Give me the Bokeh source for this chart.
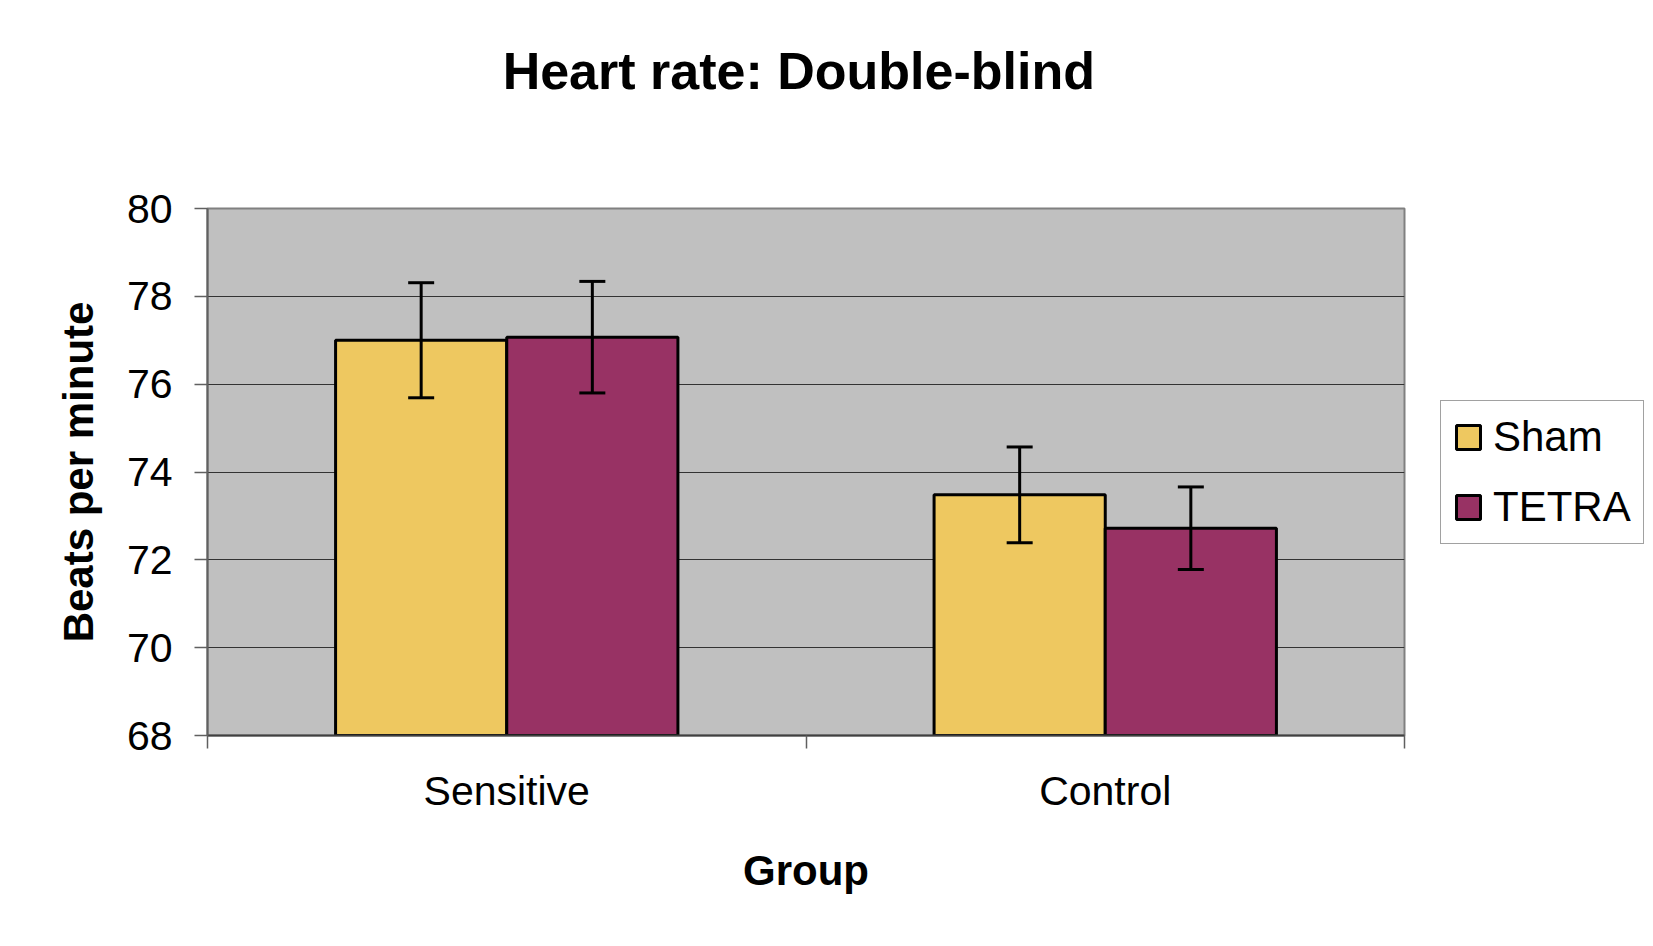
from bokeh.plotting import figure
from bokeh.models import (Range1d, FixedTicker, Whisker, ColumnDataSource, Legend,
                          LegendItem, TeeHead, LinearAxis)
from bokeh.embed import file_html
from bokeh.resources import INLINE

# ---- data ----
title_text = "Heart rate:  Double-blind"
groups = ["Sensitive", "Control"]
series = ["Sham", "TETRA"]
sham_mean = [77.0, 73.48]
sham_err = [1.31, 1.09]
tetra_mean = [77.07, 72.72]
tetra_err = [1.27, 0.94]
y_ticks = [68, 70, 72, 74, 76, 78, 80]
x_label = "Group"
y_label = "Beats per minute"

# ---- styles ----
colors = ["#EEC860", "#983264"]
FONT = "Liberation Sans"
bar_w = 0.286
y_min, y_max = y_ticks[0], y_ticks[-1]
FW, FH = 1197, 527

centers = [i + 0.5 for i in range(len(groups))]
all_means = [sham_mean, tetra_mean]
all_errs = [sham_err, tetra_err]

p = figure(width=1650, height=944, frame_width=FW, frame_height=FH,
           output_backend="svg", toolbar_location=None,
           x_range=Range1d(0, len(groups)), y_range=Range1d(y_min, y_max),
           min_border_left=207, min_border_right=246, min_border_top=208,
           min_border_bottom=209)

p.background_fill_color = "#C0C0C0"
p.border_fill_color = "white"
p.outline_line_color = "#808080"
p.outline_line_width = 2

renderers = []
for k, (means, errs) in enumerate(zip(all_means, all_errs)):
    offset = (k - 0.5) * bar_w
    xs = [c + offset for c in centers]
    src = ColumnDataSource(dict(x=xs, top=means,
                                upper=[m + e for m, e in zip(means, errs)],
                                lower=[m - e for m, e in zip(means, errs)]))
    r = p.vbar(x="x", top="top", bottom=y_min, width=bar_w, source=src,
               fill_color=colors[k], line_color="black", line_width=3)
    renderers.append(r)
    w = Whisker(base="x", upper="upper", lower="lower", source=src,
                line_color="black", line_width=3, level="overlay",
                upper_head=TeeHead(size=26, line_width=3, line_color="black"),
                lower_head=TeeHead(size=26, line_width=3, line_color="black"))
    p.add_layout(w)

# grid
p.xgrid.visible = False
p.ygrid.ticker = FixedTicker(ticks=y_ticks)
p.ygrid.grid_line_color = "#333333"
p.ygrid.grid_line_width = 1

# y axis
p.yaxis.ticker = FixedTicker(ticks=y_ticks)
p.yaxis.major_label_text_font = FONT
p.yaxis.major_label_text_font_size = "41px"
p.yaxis.major_label_text_color = "black"
p.yaxis.major_tick_out = 13
p.yaxis.major_tick_in = 0
p.yaxis.major_tick_line_color = "#606060"
p.yaxis.major_tick_line_width = 1.5
p.yaxis.minor_tick_line_color = None
p.yaxis.axis_line_color = "#606060"
p.yaxis.axis_line_width = 2
p.yaxis.major_label_standoff = 22
p.yaxis.axis_label = y_label
p.yaxis.axis_label_text_font = FONT
p.yaxis.axis_label_text_font_size = "42px"
p.yaxis.axis_label_text_font_style = "bold"
p.yaxis.axis_label_text_color = "black"
p.yaxis.axis_label_standoff = 22

# x axis
p.xaxis.ticker = FixedTicker(ticks=centers, minor_ticks=list(range(len(groups) + 1)))
p.xaxis.major_label_overrides = {c: g for c, g in zip(centers, groups)}
p.xaxis.major_tick_out = 0
p.xaxis.major_tick_in = 0
p.xaxis.minor_tick_out = 13
p.xaxis.minor_tick_in = 0
p.xaxis.minor_tick_line_color = "#606060"
p.xaxis.minor_tick_line_width = 1.5
p.xaxis.axis_line_color = "#404040"
p.xaxis.axis_line_width = 2
p.xaxis.major_label_text_font = FONT
p.xaxis.major_label_text_font_size = "41px"
p.xaxis.major_label_text_color = "black"
p.xaxis.major_label_standoff = 19
p.xaxis.axis_label = x_label
p.xaxis.axis_label_text_font = FONT
p.xaxis.axis_label_text_font_size = "42px"
p.xaxis.axis_label_text_font_style = "bold"
p.xaxis.axis_label_text_color = "black"
p.xaxis.axis_label_standoff = 30

# chart title: carried by a bare axis above the frame so it can sit high up
title_axis = LinearAxis(ticker=FixedTicker(ticks=[]), axis_label=title_text,
                        axis_line_color=None, major_tick_line_color=None,
                        minor_tick_line_color=None, major_tick_out=0, major_tick_in=0,
                        minor_tick_out=0, minor_tick_in=0, major_label_standoff=0,
                        axis_label_standoff=109, axis_label_text_font=FONT,
                        axis_label_text_font_size="52px",
                        axis_label_text_font_style="bold",
                        axis_label_text_color="black")
p.add_layout(title_axis, "above")

# legend
legend = Legend(items=[LegendItem(label=s, renderers=[r]) for s, r in zip(series, renderers)],
                location=(36, 191), margin=0, padding=12, spacing=22,
                glyph_width=30, glyph_height=30, label_standoff=10,
                label_text_font=FONT, label_text_font_size="42px",
                label_text_color="black",
                border_line_color="#444444", border_line_width=1,
                background_fill_color="white", background_fill_alpha=1)
p.add_layout(legend, "right")

open("out.html", "w").write(file_html(p, INLINE))
